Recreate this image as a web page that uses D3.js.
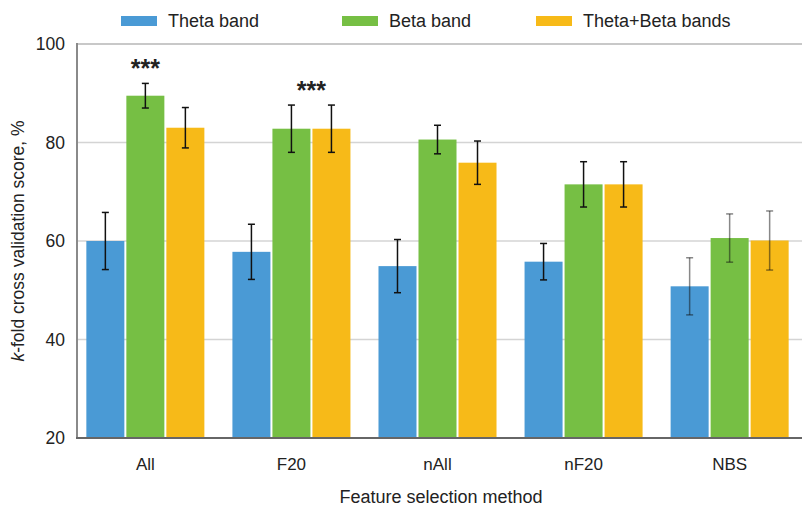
<!DOCTYPE html>
<html>
<head>
<meta charset="utf-8">
<script src="https://cdn.jsdelivr.net/npm/d3@7"></script>
<style>
  body { margin: 0; background: #fff; }
  text { font-family: "Liberation Sans", Arial, sans-serif; fill: #222; }
</style>
</head>
<body>
<div id="chart"></div>
<script>
// categories and series
var methods = ["All", "F20", "nAll", "nF20", "NBS"];
var bands = ["Theta band", "Beta band", "Theta+Beta bands"];
var thetaMean = [60, 57.8, 54.9, 55.8, 50.8];
var thetaErr = [5.8, 5.6, 5.4, 3.7, 5.8];
var betaMean = [89.5, 82.8, 80.6, 71.5, 60.6];
var betaErr = [2.5, 4.8, 2.9, 4.6, 4.9];
var bothMean = [83.0, 82.8, 75.9, 71.5, 60.1];
var bothErr = [4.1, 4.8, 4.4, 4.6, 6.0];
var yTicks = [20, 40, 60, 80, 100];
// significance marks: [method, over which bands]
var stars = [["All", ["Beta band"]], ["F20", ["Beta band", "Theta+Beta bands"]]];

var colors = ["#4a9ad5", "#76bf44", "#f7ba18"];
var width = 802, height = 508;
var plotL = 77, plotR = 802, plotT = 44, plotB = 438;

var means = [thetaMean, betaMean, bothMean];
var errs = [thetaErr, betaErr, bothErr];
var rows = [];
methods.forEach(function(m, i) {
  bands.forEach(function(b, j) {
    rows.push({method: m, band: b, mean: means[j][i], err: errs[j][i], color: colors[j]});
  });
});

var svg = d3.select("#chart").append("svg")
  .attr("width", width).attr("height", height);

var x = d3.scaleBand().domain(methods).range([plotL, 798])
  .paddingInner(0.192).paddingOuter(0.064);
var xs = d3.scaleBand().domain(bands).range([0, x.bandwidth()]).paddingInner(0.05);
var y = d3.scaleLinear().domain([20, 100]).range([plotB, plotT]);

// gridlines
svg.append("g").selectAll("line")
  .data(yTicks.filter(function(t) { return t > 20; }))
  .enter().append("line")
  .attr("x1", plotL).attr("x2", plotR)
  .attr("y1", function(d) { return y(d); }).attr("y2", function(d) { return y(d); })
  .attr("stroke", function(d) { return d === 100 ? "#c8c8c8" : "#d4d4d4"; })
  .attr("stroke-width", function(d) { return d === 100 ? 2 : 1.5; });

// y axis
var yAxis = svg.append("g")
  .attr("transform", "translate(" + plotL + ",0)")
  .call(d3.axisLeft(y).tickValues(yTicks).tickSize(0).tickPadding(12));
yAxis.select(".domain").remove();
yAxis.selectAll("text").style("font-size", "17.5px").attr("fill", "#222")
  .style("font-family", "'Liberation Sans', Arial, sans-serif");

// bars
svg.append("g").selectAll("rect")
  .data(rows).enter().append("rect")
  .attr("x", function(d) { return x(d.method) + xs(d.band); })
  .attr("y", function(d) { return y(d.mean); })
  .attr("width", xs.bandwidth())
  .attr("height", function(d) { return plotB - y(d.mean); })
  .attr("fill", function(d) { return d.color; });

// error bars
var eb = svg.append("g").selectAll("g")
  .data(rows).enter().append("g")
  .attr("stroke", "#111")
  .attr("stroke-width", 1.5)
  .attr("stroke-opacity", function(d) { return d.method === "NBS" ? 0.5 : 1; });
function cx(d) { return x(d.method) + xs(d.band) + xs.bandwidth() / 2; }
eb.append("line")
  .attr("x1", cx).attr("x2", cx)
  .attr("y1", function(d) { return y(d.mean + d.err); })
  .attr("y2", function(d) { return y(d.mean - d.err); });
eb.selectAll("line.cap")
  .data(function(d) { return [d.mean + d.err, d.mean - d.err].map(function(v) { return {d: d, v: v}; }); })
  .enter().append("line")
  .attr("class", "cap")
  .attr("x1", function(e) { return cx(e.d) - 3.5; })
  .attr("x2", function(e) { return cx(e.d) + 3.5; })
  .attr("y1", function(e) { return y(e.v); })
  .attr("y2", function(e) { return y(e.v); });

// axis lines
svg.append("line").attr("x1", plotL).attr("x2", plotL).attr("y1", plotT - 1).attr("y2", plotB)
  .attr("stroke", "#8a8a8a").attr("stroke-width", 2);
svg.append("line").attr("x1", plotL - 1).attr("x2", plotR).attr("y1", plotB).attr("y2", plotB)
  .attr("stroke", "#666").attr("stroke-width", 2);

// significance stars
stars.forEach(function(s) {
  var m = s[0], bs = s[1];
  var idx = methods.indexOf(m);
  var xsPos = bs.map(function(b) { return x(m) + xs(b) + xs.bandwidth() / 2; });
  var topVal = d3.max(bs, function(b) {
    var j = bands.indexOf(b);
    return means[j][idx] + errs[j][idx];
  });
  svg.append("text")
    .attr("x", d3.mean(xsPos))
    .attr("y", y(topVal) - 6)
    .attr("text-anchor", "middle")
    .style("font-size", "25px").style("font-weight", "bold")
    .attr("fill", "#222")
    .text("***");
});

// x labels
svg.append("g").selectAll("text")
  .data(methods).enter().append("text")
  .attr("x", function(d) { return x(d) + x.bandwidth() / 2; })
  .attr("y", 470)
  .attr("text-anchor", "middle")
  .style("font-size", "17px")
  .text(function(d) { return d; });

svg.append("text")
  .attr("x", 441).attr("y", 503)
  .attr("text-anchor", "middle")
  .style("font-size", "18px")
  .text("Feature selection method");

// y title
var yt = svg.append("text")
  .attr("transform", "translate(24,241) rotate(-90)")
  .attr("text-anchor", "middle")
  .style("font-size", "17.5px");
yt.append("tspan").style("font-style", "italic").text("k");
yt.append("tspan").text("-fold cross validation score, %");

// legend
var legX = [121, 342, 536];
var leg = svg.append("g").selectAll("g")
  .data(bands).enter().append("g")
  .attr("transform", function(d, i) { return "translate(" + legX[i] + ",0)"; });
leg.append("rect").attr("x", 0).attr("y", 16).attr("width", 36).attr("height", 10)
  .attr("fill", function(d, i) { return colors[i]; });
leg.append("text").attr("x", 47).attr("y", 27)
  .style("font-size", "18px")
  .text(function(d) { return d; });
</script>
</body>
</html>
